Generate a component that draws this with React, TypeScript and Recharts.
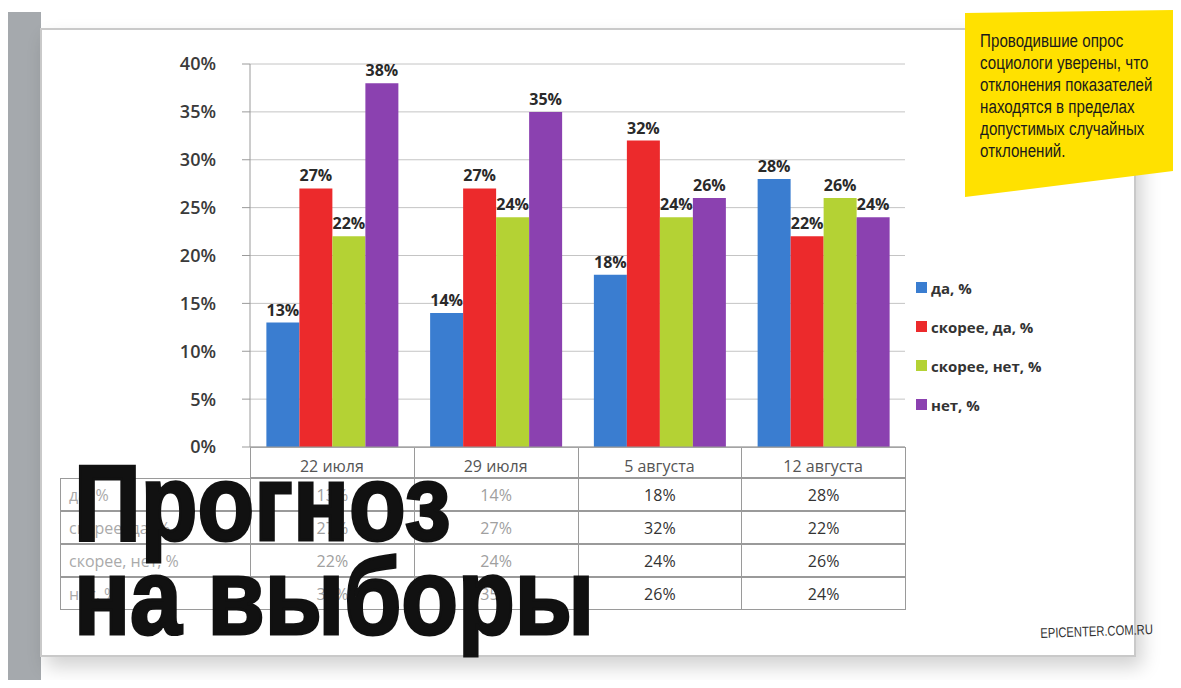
import React from 'react';
import { BarChart, Bar, XAxis, YAxis, CartesianGrid, LabelList } from 'recharts';

const categories = ['22 июля', '29 июля', '5 августа', '12 августа'];
const da = [13, 14, 18, 28];
const skoreeDa = [27, 27, 32, 22];
const skoreeNet = [22, 24, 24, 26];
const net = [38, 35, 26, 24];
const yTicks = [0, 5, 10, 15, 20, 25, 30, 35, 40];

const series = [
  { key: 'da', name: 'да, %', color: '#3a7dd0', values: da },
  { key: 'skoreeDa', name: 'скорее, да, %', color: '#ec2a2c', values: skoreeDa },
  { key: 'skoreeNet', name: 'скорее, нет, %', color: '#b4d234', values: skoreeNet },
  { key: 'net', name: 'нет, %', color: '#8b41b0', values: net },
];

const data = categories.map((cat, i) => {
  const row: any = { cat };
  series.forEach((s) => { row[s.key] = s.values[i]; });
  return row;
});

const FONT = '"Open Sans", "DejaVu Sans", sans-serif';
const NARROW = '"Liberation Sans", Arial, sans-serif';

// plot box inside the chart svg
const PLOT_LEFT = 250;
const PLOT_RIGHT = 905;
const PLOT_BOTTOM = 447;
const COL_W = (PLOT_RIGHT - PLOT_LEFT) / categories.length;
const ROW_H = 33;

function DataTable() {
  const cell: React.CSSProperties = {
    position: 'absolute',
    height: ROW_H,
    lineHeight: `${ROW_H}px`,
    textAlign: 'center',
    border: '1px solid #9a9a9a',
    boxSizing: 'border-box',
    color: '#555',
    fontSize: 16,
    fontFamily: FONT,
  };
  return (
    <div>
      {/* header row frame, labels come from the x axis */}
      {categories.map((c, i) => (
        <div key={c} style={{ ...cell, left: PLOT_LEFT + i * COL_W, top: PLOT_BOTTOM, width: COL_W + 1, height: ROW_H - 2 }} />
      ))}
      {series.map((s, r) => (
        <React.Fragment key={s.key}>
          <div style={{ ...cell, left: 60, top: PLOT_BOTTOM + ROW_H * (r + 1) - 2, width: PLOT_LEFT - 60 + 1, textAlign: 'left', paddingLeft: 8, color: '#aaa' }}>
            {s.name}
          </div>
          {s.values.map((v, i) => (
            <div key={i} style={{ ...cell, left: PLOT_LEFT + i * COL_W, top: PLOT_BOTTOM + ROW_H * (r + 1) - 2, width: COL_W + 1, color: i < 2 ? '#a0a0a0' : '#333' }}>
              {v}%
            </div>
          ))}
        </React.Fragment>
      ))}
    </div>
  );
}

function SideLegend() {
  return (
    <div style={{ position: 'absolute', left: 916, top: 268, fontFamily: FONT, fontSize: 15, fontWeight: 700, color: '#333' }}>
      {series.map((s) => (
        <div key={s.key} style={{ display: 'flex', alignItems: 'center', height: 39 }}>
          <span style={{ width: 11, height: 11, background: s.color, marginRight: 4, display: 'inline-block' }} />
          {s.name}
        </div>
      ))}
    </div>
  );
}

export default function App() {
  return (
    <div style={{ position: 'relative', margin: -8, width: 1181, height: 688, overflow: 'hidden', background: '#fff' }}>
      {/* grey strip at the left and the paper sheet */}
      <div style={{ position: 'absolute', left: 8, top: 12, width: 33, height: 676, background: '#a5a9ad' }} />
      <div style={{ position: 'absolute', left: 40, top: 28, width: 1092, height: 625, background: '#fff', border: '2px solid #c9c9c9', boxShadow: '6px 10px 18px rgba(0,0,0,0.18)' }} />

      <DataTable />

      <div style={{ position: 'absolute', left: 0, top: 0 }}>
        <BarChart width={1100} height={480} data={data} margin={{ top: 64, right: 195, bottom: 2, left: 0 }} barCategoryGap="10%" barGap={0}>
          <CartesianGrid vertical={false} stroke="#c4c4c4" />
          <XAxis
            dataKey="cat"
            height={31}
            axisLine={{ stroke: '#9a9a9a' }}
            tickLine={false}
            tickMargin={8}
            tick={{ fill: '#555', fontSize: 16, fontFamily: FONT }}
          />
          <YAxis
            width={250}
            domain={[0, 40]}
            ticks={yTicks}
            interval={0}
            axisLine={{ stroke: '#9a9a9a' }}
            tickLine={{ stroke: '#9a9a9a' }}
            tickSize={8}
            tickMargin={26}
            tickFormatter={(v) => `${v}%`}
            tick={{ fill: '#3a3a3a', fontSize: 18, fontWeight: 600, fontFamily: FONT }}
          />
          {series.map((s) => (
            <Bar key={s.key} dataKey={s.key} name={s.name} fill={s.color} isAnimationActive={false}>
              <LabelList
                dataKey={s.key}
                position="top"
                offset={7}
                formatter={(v: any) => `${v}%`}
                style={{ fill: '#2a2a2a', fontSize: 16, fontWeight: 700, fontFamily: FONT }}
              />
            </Bar>
          ))}
        </BarChart>
      </div>

      <SideLegend />

      {/* title, squeezed to look like a condensed face */}
      <div style={{ position: 'absolute', left: 74, top: 456, fontFamily: NARROW, fontWeight: 700, fontSize: 108, lineHeight: '94px', color: '#111', WebkitTextStroke: '3px #111', transform: 'scaleX(0.86)', transformOrigin: 'left top', whiteSpace: 'nowrap' }}>
        Прогноз<br />на выборы
      </div>

      {/* yellow note */}
      <div style={{ position: 'absolute', left: 965, top: 10, width: 216, height: 190, background: '#ffe100', clipPath: 'polygon(0 3px, 100% 0, 100% 160px, 0 187px)' }}>
        <div style={{ padding: '20px 0 0 18px', fontFamily: NARROW, fontSize: 18, lineHeight: '22px', color: '#1a1a1a', transform: 'scaleX(0.84)', transformOrigin: 'left top', whiteSpace: 'nowrap' }}>
          Проводившие опрос<br />социологи уверены, что<br />отклонения показателей<br />находятся в пределах<br />допустимых случайных<br />отклонений.
        </div>
      </div>

      <div style={{ position: 'absolute', left: 1040, top: 625, fontFamily: NARROW, fontSize: 14, color: '#333', transform: 'rotate(-2deg) scaleX(0.8)', transformOrigin: 'left top', whiteSpace: 'nowrap' }}>
        EPICENTER.COM.RU
      </div>
    </div>
  );
}
